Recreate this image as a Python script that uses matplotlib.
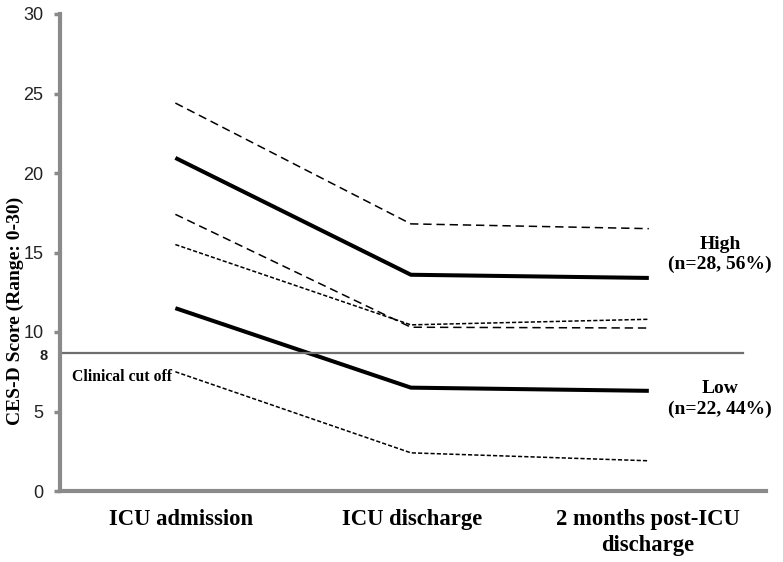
import matplotlib
matplotlib.use('Agg')
import matplotlib.pyplot as plt
import matplotlib.transforms as mtransforms

plt.rcParams['lines.scale_dashes'] = False

# categories / data
categories = ['ICU admission', 'ICU discharge', '2 months post-ICU\ndischarge']
label_pos = [0.005, 0.967, 1.946]
x_pts = [-0.02, 0.96, 1.95]

high_mean = [20.95, 13.6, 13.4]
high_upper = [24.4, 16.8, 16.5]
high_lower = [17.4, 10.3, 10.25]

low_mean = [11.5, 6.5, 6.3]
low_upper = [15.5, 10.45, 10.8]
low_lower = [7.5, 2.4, 1.9]

cutoff = 8.7
yticks = [0, 5, 10, 15, 20, 25, 30]

serif = 'Liberation Serif'
sans = 'Liberation Sans'
grey = '#8a8a8a'

fig = plt.figure(figsize=(7.83, 5.62), dpi=100)
ax = fig.add_axes([60 / 783, 1 - 491 / 562, (766 - 60) / 783, (491 - 14) / 562])

ax.plot(x_pts, high_mean, color='black', lw=2.9, solid_capstyle='butt')
ax.plot(x_pts, low_mean, color='black', lw=2.9, solid_capstyle='butt')
ax.plot(x_pts, high_upper, color='black', lw=1.1, dashes=(6, 3.5))
ax.plot(x_pts, high_lower, color='black', lw=1.1, dashes=(6, 3.5))
ax.plot(x_pts, low_upper, color='black', lw=1.1, dashes=(3, 1.5))
ax.plot(x_pts, low_lower, color='black', lw=1.1, dashes=(3, 1.5))

ax.plot([-0.5, 2.342], [cutoff, cutoff], color='#6e6e6e', lw=1.6)

ax.set_xlim(-0.5, 2.4375)
ax.set_ylim(0, 30)

for s in ['top', 'right']:
    ax.spines[s].set_visible(False)
for s in ['left', 'bottom']:
    ax.spines[s].set_color(grey)
    ax.spines[s].set_linewidth(3)

ax.set_yticks(yticks)
ax.set_yticklabels([str(t) for t in yticks], fontsize=13, family=sans, color='#222222')
ax.tick_params(axis='y', length=4, width=2.5, color=grey, pad=8)

ax.set_xticks(label_pos)
ax.set_xticklabels(categories, fontsize=16.3, family=serif, fontweight='bold', linespacing=1.32)
ax.tick_params(axis='x', length=0, pad=13)

trans = mtransforms.blended_transform_factory(ax.transAxes, ax.transData)
ax.text(-0.018, cutoff - 0.2, '8', transform=trans, ha='right', va='center',
        fontsize=10.5, family=sans, fontweight='bold', color='#222222')

ax.text(-0.45, 7.2, 'Clinical cut off', fontsize=11.3, family=serif,
        fontweight='bold', va='center', ha='left')
ax.text(2.246, 14.87, 'High\n(n=28, 56%)', fontsize=14, family=serif,
        fontweight='bold', ha='center', va='center', linespacing=1.25)
ax.text(2.246, 5.8, 'Low\n(n=22, 44%)', fontsize=14, family=serif,
        fontweight='bold', ha='center', va='center', linespacing=1.25)

fig.text(15 / 783, 1 - 311 / 562, 'CES-D Score (Range: 0-30)', rotation=90,
         ha='center', va='center', fontsize=14, family=serif, fontweight='bold')

fig.savefig('out.png', dpi=100)
